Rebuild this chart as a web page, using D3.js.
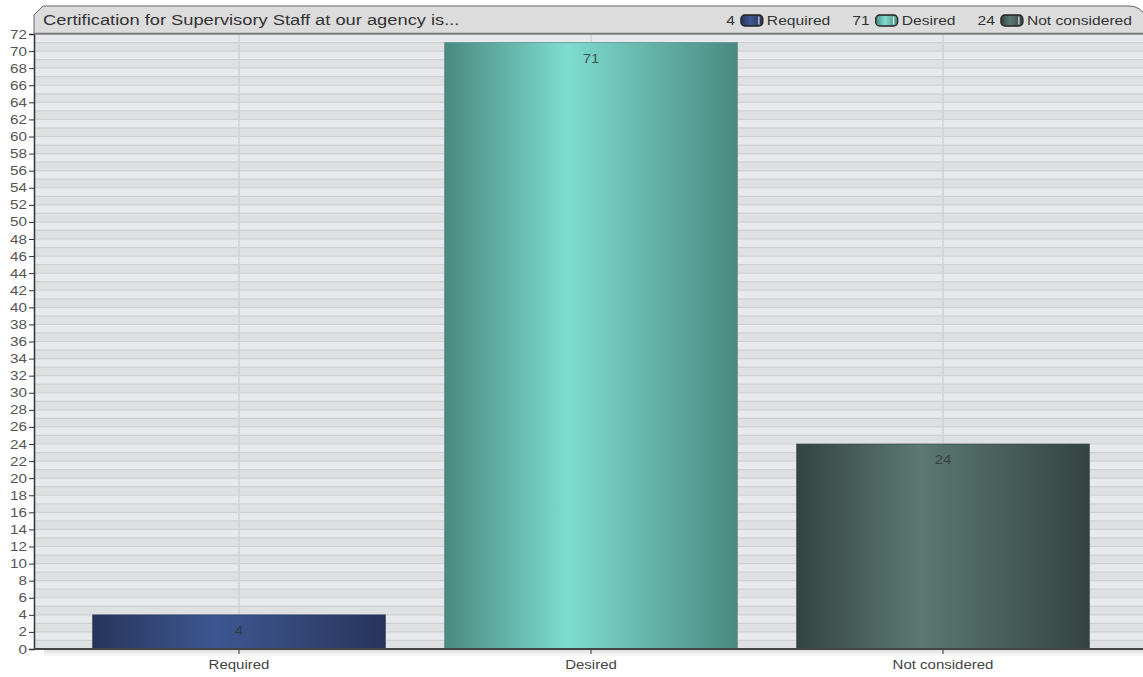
<!DOCTYPE html>
<html><head><meta charset="utf-8">
<script src="https://cdn.jsdelivr.net/npm/d3@7"></script>
<style>html,body{margin:0;padding:0;background:#fff;}svg{display:block;font-family:"Liberation Sans",Arial,sans-serif;}</style>
</head><body>
<svg id="c" width="1143" height="677"></svg>
<script>
const title = "Certification for Supervisory Staff at our agency is...";
const categories = ["Required", "Desired", "Not considered"];
const values = [4, 71, 24];
const yTicks = d3.range(0, 73, 2);
const edgeColors = ["#27345a", "#4a897f", "#344440"];
const midColors = ["#3e5792", "#7edcd0", "#5b7872"];

function stretch(sel, f) {
  sel.each(function () {
    const l = this.getComputedTextLength();
    this.setAttribute("textLength", l * f);
    this.setAttribute("lengthAdjust", "spacingAndGlyphs");
  });
}

const svg = d3.select("#c");
const L = 34, R = 1143, T = 34, B = 649;
const x = d3.scaleBand().domain(categories).range([63, 1119]).paddingInner(0.168).paddingOuter(0.084);
const y = d3.scaleLinear().domain([0, 72]).range([B, T]);

const defs = svg.append("defs");
categories.forEach((c, i) => {
  const g = defs.append("linearGradient").attr("id", "g" + i).attr("x1", 0).attr("x2", 1).attr("y1", 0).attr("y2", 0);
  g.append("stop").attr("offset", "0%").attr("stop-color", edgeColors[i]);
  g.append("stop").attr("offset", "42%").attr("stop-color", midColors[i]);
  g.append("stop").attr("offset", "100%").attr("stop-color", edgeColors[i]);
});
const sh = defs.append("linearGradient").attr("id", "sh").attr("x1", 0).attr("x2", 0).attr("y1", 0).attr("y2", 1);
sh.append("stop").attr("offset", "0%").attr("stop-color", "#000").attr("stop-opacity", 0.12);
sh.append("stop").attr("offset", "100%").attr("stop-color", "#000").attr("stop-opacity", 0);

// plot background bands
const units = d3.range(0, 72);
svg.append("g").selectAll("rect").data(units).join("rect")
  .attr("x", L).attr("width", R - L)
  .attr("y", d => y(d + 1)).attr("height", d => y(d) - y(d + 1))
  .attr("fill", d => d % 2 === 0 ? "#dfe0e2" : "#e7e9ec");
svg.append("g").selectAll("line").data(d3.range(1, 72)).join("line")
  .attr("x1", L).attr("x2", R).attr("y1", d => y(d)).attr("y2", d => y(d))
  .attr("stroke", "#cfd0d3").attr("stroke-width", 1.2);
svg.append("g").selectAll("line").data(categories).join("line")
  .attr("x1", d => x(d) + x.bandwidth() / 2).attr("x2", d => x(d) + x.bandwidth() / 2)
  .attr("y1", T).attr("y2", B).attr("stroke", "#d0d1d4").attr("stroke-width", 1.5);

svg.append("rect").attr("x", L + 10).attr("y", B + 1).attr("width", R - L - 10).attr("height", 7).attr("fill", "url(#sh)");

// bars
svg.append("g").selectAll("rect").data(categories).join("rect")
  .attr("x", d => x(d)).attr("width", x.bandwidth())
  .attr("y", (d, i) => y(values[i])).attr("height", (d, i) => B - y(values[i]))
  .attr("fill", (d, i) => `url(#g${i})`)
  .attr("stroke", (d, i) => edgeColors[i]).attr("stroke-opacity", 0.6).attr("stroke-width", 1);
const vl = svg.append("g").selectAll("text").data(categories).join("text")
  .attr("x", d => x(d) + x.bandwidth() / 2)
  .attr("y", (d, i) => y(values[i]) + 20)
  .attr("text-anchor", "middle").attr("font-size", 12.5).attr("fill", "#333").attr("fill-opacity", 0.8)
  .text((d, i) => values[i]);
stretch(vl, 1.2);

// y axis
const ya = svg.append("g").attr("transform", `translate(${L},0)`)
  .call(d3.axisLeft(y).tickValues(yTicks).tickSize(5).tickPadding(2));
ya.select(".domain").attr("stroke", "#333").attr("stroke-width", 1.5);
ya.selectAll(".tick line").attr("stroke", "#333");
ya.selectAll(".tick text").attr("font-size", 12.5).attr("fill", "#555").attr("font-family", "Liberation Sans, Arial, sans-serif");
stretch(ya.selectAll(".tick text"), 1.22);

// x axis
const xa = svg.append("g").attr("transform", `translate(0,${B})`)
  .call(d3.axisBottom(x).tickSize(5).tickPadding(6));
xa.select(".domain").remove();
xa.selectAll(".tick line").attr("stroke", "#333");
xa.selectAll(".tick text").attr("font-size", 12.5).attr("fill", "#444").attr("font-family", "Liberation Sans, Arial, sans-serif");
stretch(xa.selectAll(".tick text"), 1.2);
svg.append("line").attr("x1", L).attr("x2", R).attr("y1", B).attr("y2", B).attr("stroke", "#444").attr("stroke-width", 2);

// title bar
const tb = d3.path();
tb.moveTo(L, T);
tb.lineTo(L, 15);
tb.lineTo(43, 6);
tb.lineTo(R - 14, 6);
tb.quadraticCurveTo(R - 2, 6, R + 4, 18);
tb.lineTo(R + 4, T);
tb.closePath();
svg.append("path").attr("d", tb.toString()).attr("fill", "#dcdcdc").attr("stroke", "#666").attr("stroke-width", 1);
svg.append("line").attr("x1", L).attr("x2", R).attr("y1", T - 0.5).attr("y2", T - 0.5).attr("stroke", "#777").attr("stroke-width", 1.5);
const tt = svg.append("text").attr("x", 43).attr("y", 25).attr("font-size", 15.5).attr("fill", "#333").text(title);
stretch(tt, 1.18);

// legend (right aligned)
const lg = svg.append("g");
let cx = 1132;
for (let i = categories.length - 1; i >= 0; i--) {
  const name = lg.append("text").attr("x", cx).attr("y", 25).attr("text-anchor", "end").attr("font-size", 12.5).attr("fill", "#333").text(categories[i]);
  const w = name.node().getComputedTextLength() * 1.25;
  stretch(name, 1.25);
  cx -= w + 4;
  const sx = cx - 22;
  lg.append("rect").attr("x", sx).attr("y", 15).attr("width", 22).attr("height", 11).attr("rx", 4)
    .attr("fill", `url(#g${i})`).attr("stroke", "#222").attr("stroke-width", 1.3);
  lg.append("line").attr("x1", sx + 18).attr("x2", sx + 18).attr("y1", 16.5).attr("y2", 24.5).attr("stroke", "#fff").attr("stroke-width", 1);
  cx = sx - 6;
  const v = lg.append("text").attr("x", cx).attr("y", 25).attr("text-anchor", "end").attr("font-size", 12.5).attr("fill", "#333").text(values[i]);
  const vw = v.node().getComputedTextLength() * 1.25;
  stretch(v, 1.25);
  cx -= vw + 22;
}
</script>
</body></html>
